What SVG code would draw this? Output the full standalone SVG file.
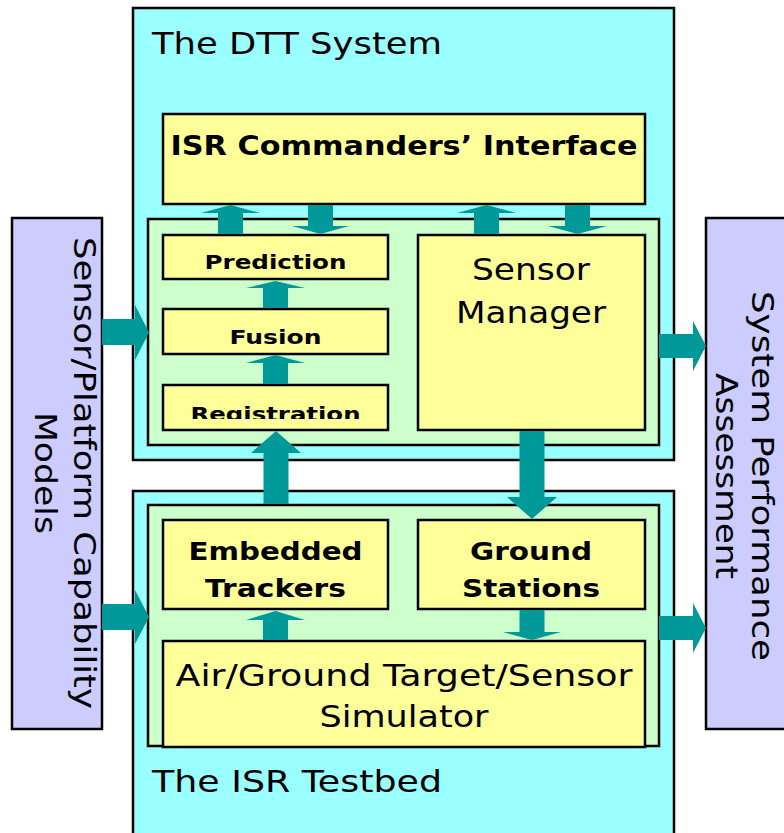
<svg xmlns="http://www.w3.org/2000/svg" width="784" height="833" viewBox="0 0 784 833">
<style>
.outer{fill:#99FFFF;stroke:#000;stroke-width:2.5}
.inner{fill:#CCFFCC;stroke:#000;stroke-width:2.5}
.box{fill:#FFFF99;stroke:#000;stroke-width:2.5}
.side{fill:#CCCCFF;stroke:#000;stroke-width:2.5}
.arr{fill:#009999;stroke:none}
text{font-family:"DejaVu Sans","Verdana",sans-serif;fill:#000}
.t30{font-size:30px}
.t31{font-size:31px}
.b20{font-size:20px;font-weight:bold}
.b25{font-size:25px;font-weight:bold}
.b27{font-size:27px;font-weight:bold}
.mid{text-anchor:middle}
</style>
<defs>
<clipPath id="regclip"><rect x="163" y="385" width="225" height="34"/></clipPath>
</defs>
<rect width="784" height="833" fill="#fff"/>

<g id="models">
<rect class="side" x="12" y="218" width="90" height="511"/>
<g transform="translate(0,473) rotate(90)">
<text class="t31 mid" x="0" y="-74" textLength="472" lengthAdjust="spacingAndGlyphs">Sensor/Platform Capability</text>
<text class="t31 mid" x="0" y="-35" textLength="122" lengthAdjust="spacingAndGlyphs">Models</text>
</g>
</g>

<g id="assessment">
<rect class="side" x="706" y="218" width="90" height="511"/>
<g transform="translate(0,476) rotate(90)">
<text class="t31 mid" x="0" y="-752" textLength="370" lengthAdjust="spacingAndGlyphs">System Performance</text>
<text class="t31 mid" x="0" y="-716" textLength="206" lengthAdjust="spacingAndGlyphs">Assessment</text>
</g>
</g>

<g id="dtt">
<rect class="outer" x="133" y="8" width="541" height="452"/>
<text class="t30" x="152" y="54" textLength="290" lengthAdjust="spacingAndGlyphs">The DTT System</text>
<rect class="inner" x="148" y="219" width="511" height="226"/>
</g>

<g id="commanders">
<rect class="box" x="163" y="114" width="482" height="90"/>
<text class="b27 mid" x="404" y="155" textLength="467" lengthAdjust="spacingAndGlyphs">ISR Commanders’ Interface</text>
</g>

<g id="prediction">
<rect class="box" x="163" y="235" width="225" height="44"/>
<text class="b20 mid" x="275.5" y="269" textLength="142" lengthAdjust="spacingAndGlyphs">Prediction</text>
</g>

<g id="fusion">
<rect class="box" x="163" y="309" width="225" height="45"/>
<text class="b20 mid" x="275.5" y="344" textLength="92" lengthAdjust="spacingAndGlyphs">Fusion</text>
</g>

<g id="registration">
<rect class="box" x="163" y="385" width="225" height="45"/>
<text class="b20 mid" x="275.5" y="421" textLength="170" lengthAdjust="spacingAndGlyphs" clip-path="url(#regclip)">Registration</text>
</g>

<g id="sensor-manager">
<rect class="box" x="418" y="235" width="227" height="195"/>
<text class="t31 mid" x="531" y="280" textLength="118" lengthAdjust="spacingAndGlyphs">Sensor</text>
<text class="t31 mid" x="531" y="323" textLength="150" lengthAdjust="spacingAndGlyphs">Manager</text>
</g>

<g id="testbed">
<rect class="outer" x="133" y="491" width="541" height="360"/>
<rect class="inner" x="148" y="505" width="511" height="241"/>
<text class="t30" x="152" y="792" textLength="290" lengthAdjust="spacingAndGlyphs">The ISR Testbed</text>
</g>

<g id="embedded-trackers">
<rect class="box" x="163" y="520" width="225" height="89"/>
<text class="b25 mid" x="275.5" y="560" textLength="174" lengthAdjust="spacingAndGlyphs">Embedded</text>
<text class="b25 mid" x="275.5" y="597" textLength="141" lengthAdjust="spacingAndGlyphs">Trackers</text>
</g>

<g id="ground-stations">
<rect class="box" x="418" y="520" width="227" height="89"/>
<text class="b25 mid" x="531" y="560" textLength="122" lengthAdjust="spacingAndGlyphs">Ground</text>
<text class="b25 mid" x="531" y="597" textLength="138" lengthAdjust="spacingAndGlyphs">Stations</text>
</g>

<g id="simulator">
<rect class="box" x="163" y="641" width="482" height="106"/>
<text class="t31 mid" x="404" y="686" textLength="457" lengthAdjust="spacingAndGlyphs">Air/Ground Target/Sensor</text>
<text class="t31 mid" x="404" y="727" textLength="169" lengthAdjust="spacingAndGlyphs">Simulator</text>
</g>

<g id="connectors">
<polygon class="arr" points="230.5,205 260,213 243,213 243,234 218,234 218,213 201,213"/>
<polygon class="arr" points="308,205 333,205 333,226 349,226 320.5,234 292,226 308,226"/>
<polygon class="arr" points="486.5,205 516,213 499,213 499,234 474,234 474,213 457,213"/>
<polygon class="arr" points="565,205 590,205 590,226 607,226 577.5,234 548,226 565,226"/>
<polygon class="arr" points="275.5,281 305,288 288,288 288,308 263,308 263,288 246,288"/>
<polygon class="arr" points="275.5,355 305,363 288,363 288,384 263,384 263,363 246,363"/>
<polygon class="arr" points="276,431 301,453 288.5,453 288.5,504 263.5,504 263.5,453 251,453"/>
<polygon class="arr" points="519.5,431 544.5,431 544.5,497 557,497 532,519 507,497 519.5,497"/>
<polygon class="arr" points="275.5,611 305,620 288,620 288,640 263,640 263,620 246,620"/>
<polygon class="arr" points="519.5,610 544.5,610 544.5,632 561,632 532,640 503,632 519.5,632"/>
<polygon class="arr" points="102,319 135,319 135,305 149,332.5 135,360 135,345 102,345"/>
<polygon class="arr" points="102,604 135,604 135,590 149,617 135,644 135,630 102,630"/>
<polygon class="arr" points="659,334 693,334 693,321 706,346 693,371 693,358 659,358"/>
<polygon class="arr" points="659,616 693,616 693,603 706,628 693,653 693,640 659,640"/>
</g>
</svg>
